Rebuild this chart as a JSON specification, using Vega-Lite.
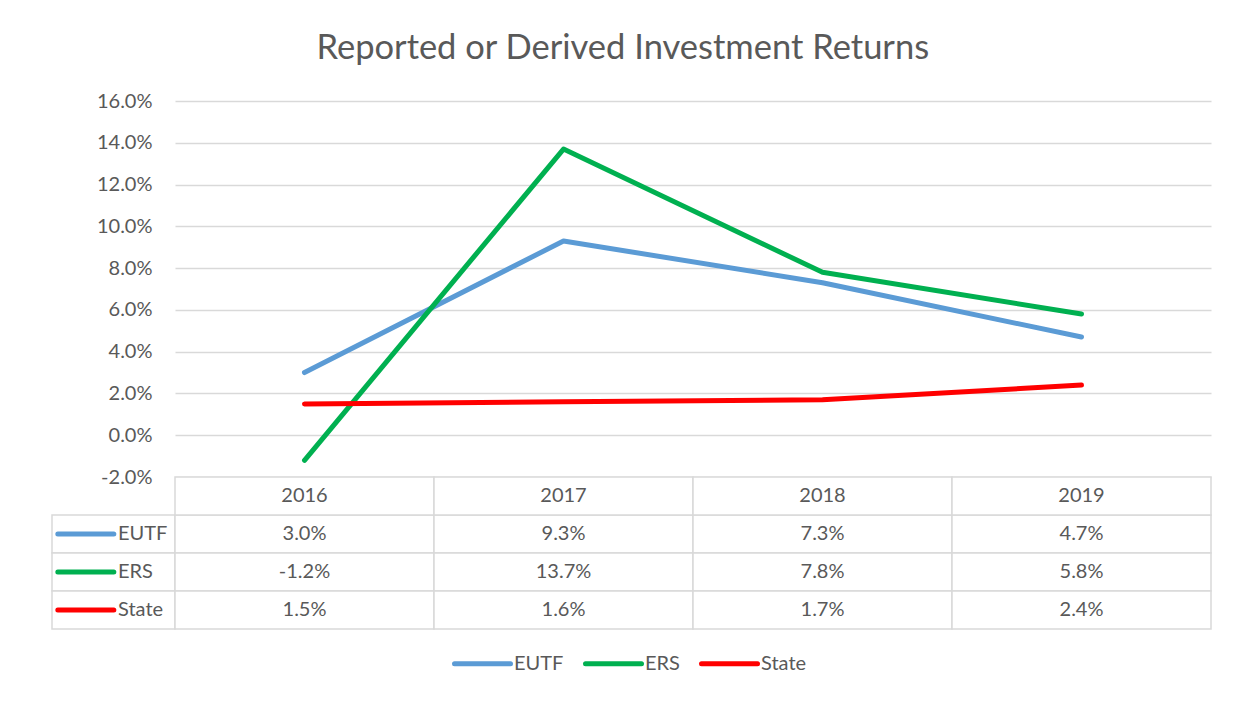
{
  "$schema": "https://vega.github.io/schema/vega-lite/v6.json",
  "padding": {"left": 47, "top": 31, "right": 20, "bottom": 20},
  "title": {
    "text": "Reported or Derived Investment Returns",
    "font": "Lato",
    "fontSize": 34.5,
    "fontWeight": "normal",
    "color": "#595959",
    "anchor": "middle",
    "offset": 24.5,
    "dx": -7
  },
  "datasets": {
    "returns": [
      {"year": "2016", "series": "EUTF", "value": 0.030},
      {"year": "2017", "series": "EUTF", "value": 0.093},
      {"year": "2018", "series": "EUTF", "value": 0.073},
      {"year": "2019", "series": "EUTF", "value": 0.047},
      {"year": "2016", "series": "ERS", "value": -0.012},
      {"year": "2017", "series": "ERS", "value": 0.137},
      {"year": "2018", "series": "ERS", "value": 0.078},
      {"year": "2019", "series": "ERS", "value": 0.058},
      {"year": "2016", "series": "State", "value": 0.015},
      {"year": "2017", "series": "State", "value": 0.016},
      {"year": "2018", "series": "State", "value": 0.017},
      {"year": "2019", "series": "State", "value": 0.024}
    ]
  },
  "columns": 2,
  "spacing": 0,
  "bounds": "flush",
  "align": "each",
  "resolve": {"scale": {"x": "independent", "y": "independent", "color": "shared"}},
  "concat": [
    {
      "width": 123,
      "height": 376,
      "data": {"values": [{}]},
      "mark": {"type": "text"},
      "encoding": {"text": {"value": ""}}
    },
    {
      "width": 1036,
      "height": 376,
      "data": {"name": "returns"},
      "mark": {"type": "line", "strokeWidth": 5, "strokeCap": "round", "strokeJoin": "round"},
      "encoding": {
        "x": {"field": "year", "type": "ordinal", "scale": {"type": "point", "padding": 0.5}, "axis": null},
        "y": {
          "field": "value",
          "type": "quantitative",
          "scale": {"domain": [-0.02, 0.16], "nice": false, "zero": false},
          "axis": {
            "values": [-0.02, 0, 0.02, 0.04, 0.06, 0.08, 0.1, 0.12, 0.14, 0.16],
            "format": ".1%",
            "title": null,
            "domain": false,
            "ticks": false,
            "labelPadding": 23,
            "labelFont": "Lato",
            "labelFontSize": 20,
            "labelColor": "#595959",
            "gridColor": "#d9d9d9",
            "gridWidth": 1.5
          }
        },
        "color": {
          "field": "series",
          "type": "nominal",
          "scale": {"domain": ["EUTF", "ERS", "State"], "range": ["#5b9bd5", "#00b050", "#ff0000"]},
          "legend": {
            "title": null,
            "orient": "bottom",
            "direction": "horizontal",
            "symbolType": "stroke",
            "symbolSize": 3136,
            "symbolStrokeWidth": 5,
            "labelFont": "Lato",
            "labelFontSize": 20,
            "labelColor": "#595959",
            "labelOffset": 1,
            "columnPadding": 11,
            "offset": 3,
            "encode": {"symbols": {"update": {"strokeCap": {"value": "round"}}}}
          }
        }
      }
    },
    {
      "width": 123,
      "height": 152,
      "data": {"name": "returns"},
      "transform": [{"filter": "datum.year == '2016'"}],
      "encoding": {
        "y": {
          "field": "series",
          "type": "nominal",
          "scale": {"domain": ["Year", "EUTF", "ERS", "State"], "paddingInner": 0, "paddingOuter": 0},
          "axis": null
        }
      },
      "layer": [
        {"mark": {"type": "rect", "fill": "white", "stroke": "#d9d9d9", "strokeWidth": 1.5}},
        {
          "mark": {"type": "point", "shape": "stroke", "size": 3136, "strokeWidth": 5, "strokeCap": "round", "opacity": 1, "filled": false},
          "encoding": {
            "x": {"datum": "key", "type": "nominal", "bandPosition": 0.55, "scale": {"type": "band", "domain": ["key", "label"], "paddingInner": 0, "paddingOuter": 0}, "axis": null},
            "color": {
              "field": "series",
              "type": "nominal",
              "scale": {"domain": ["EUTF", "ERS", "State"], "range": ["#5b9bd5", "#00b050", "#ff0000"]},
              "legend": {
                "title": null,
                "orient": "bottom",
                "direction": "horizontal",
                "symbolType": "stroke",
                "symbolSize": 3136,
                "symbolStrokeWidth": 5,
                "labelFont": "Lato",
                "labelFontSize": 20,
                "labelColor": "#595959",
                "labelOffset": 1,
                "columnPadding": 11,
                "offset": 3,
                "encode": {"symbols": {"update": {"strokeCap": {"value": "round"}}}}
              }
            }
          }
        },
        {
          "mark": {"type": "text", "align": "left", "dx": 4.5, "font": "Lato", "fontSize": 20, "color": "#595959"},
          "encoding": {
            "x": {"datum": "label", "type": "nominal", "bandPosition": 0, "scale": {"type": "band", "domain": ["key", "label"], "paddingInner": 0, "paddingOuter": 0}, "axis": null},
            "text": {"field": "series", "type": "nominal"}
          }
        }
      ]
    },
    {
      "width": 1036,
      "height": 152,
      "data": {"name": "returns"},
      "encoding": {
        "x": {"field": "year", "type": "ordinal", "scale": {"type": "band", "paddingInner": 0, "paddingOuter": 0}, "axis": null},
        "y": {
          "field": "series",
          "type": "nominal",
          "scale": {"domain": ["Year", "EUTF", "ERS", "State"], "paddingInner": 0, "paddingOuter": 0},
          "axis": null
        }
      },
      "layer": [
        {"mark": {"type": "rect", "fill": "white", "stroke": "#d9d9d9", "strokeWidth": 1.5}},
        {
          "mark": {"type": "text", "font": "Lato", "fontSize": 20, "color": "#595959"},
          "encoding": {"text": {"field": "value", "type": "quantitative", "format": ".1%"}}
        },
        {
          "transform": [{"filter": "datum.series == 'EUTF'"}],
          "mark": {"type": "rect", "fill": "white", "stroke": "#d9d9d9", "strokeWidth": 1.5},
          "encoding": {"y": {"datum": "Year", "type": "nominal"}}
        },
        {
          "transform": [{"filter": "datum.series == 'EUTF'"}],
          "mark": {"type": "text", "font": "Lato", "fontSize": 20, "color": "#595959"},
          "encoding": {"y": {"datum": "Year", "type": "nominal"}, "text": {"field": "year", "type": "nominal"}}
        }
      ]
    }
  ],
  "config": {
    "view": {"stroke": null},
    "font": "Lato",
    "locale": {"number": {"decimal": ".", "thousands": ",", "grouping": [3], "currency": ["$", ""], "minus": "-"}},
    "legend": {"layout": {"bottom": {"anchor": "middle"}}}
  }
}
